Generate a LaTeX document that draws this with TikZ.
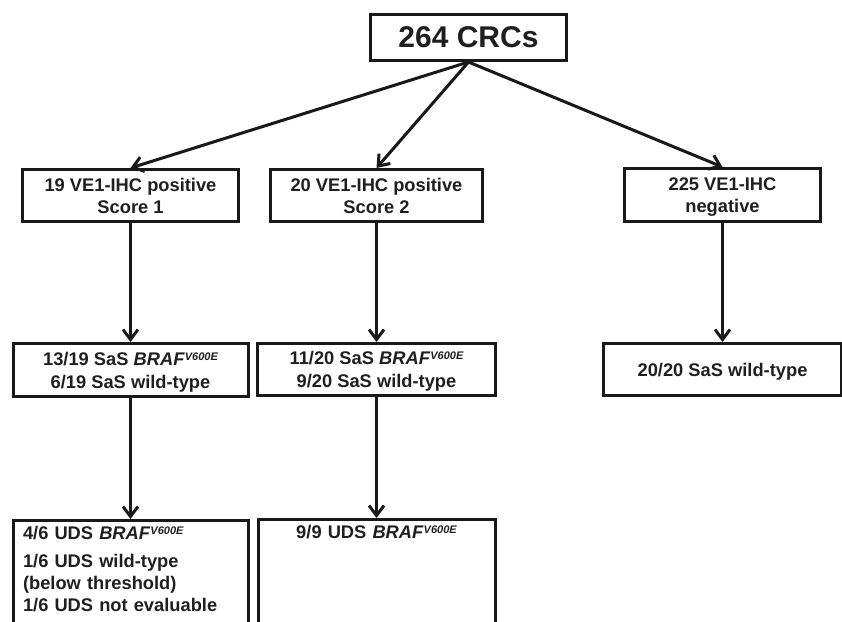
\documentclass[tikz,border=0pt]{standalone}
\usepackage{fontspec}
\setmainfont{Liberation Sans}
\usepackage{tikz}
\usetikzlibrary{positioning,arrows.meta}
\tikzset{ box/.style={draw=black!90,line width=3pt,inner sep=3pt,text depth=0pt,text=black!88,align=center,font=\fontsize{18.3}{22}\selectfont\bfseries},
  flow/.style={draw=black!90,line width=3pt,-{Straight Barb[length=10pt,width=15pt]}} }
\newcommand{\braf}{\textit{BRAF}\raisebox{5pt}{\fontsize{11}{12}\selectfont\itshape V600E}}

\begin{document}
\begin{tikzpicture}[x=1pt,y=-1pt]
   \useasboundingbox (0,0) rectangle (842,621);
   \node[box,minimum width=196pt,minimum height=46pt,font=\fontsize{30}{34}\selectfont\bfseries] (crc) at (468.5,37.5) {264 CRCs};
   \node[box,minimum width=216pt,minimum height=52pt] (ihc1) at (130.5,195.5) {19 VE1-IHC positive\\Score 1};
   \node[box,minimum width=212pt,minimum height=52pt] (ihc2) at (376.5,195.5) {20 VE1-IHC positive\\Score 2};
   \node[box,minimum width=196pt,minimum height=53pt] (ihcneg) at (722.5,195) {225 VE1-IHC\\negative};
   \node[box,minimum width=235pt,minimum height=53pt,below=119pt of ihc1] (sas1) {13/19 SaS \braf\\[1pt]6/19 SaS wild-type};
   \node[box,minimum width=238pt,minimum height=52pt,below=119pt of ihc2] (sas2) {11/20 SaS \braf\\[1pt]9/20 SaS wild-type};
   \node[box,minimum width=238pt,minimum height=52pt,below=119pt of ihcneg] (sasneg) {20/20 SaS wild-type};
   \node[box,text width=215pt,inner xsep=10pt,align=left,text height=16pt,text depth=110pt,below=121pt of sas1] (uds1) {4/6 UDS \braf\\[6pt]1/6 UDS wild-type\\(below threshold)\\1/6 UDS not evaluable};
   \node[box,text width=217pt,inner xsep=10pt,text height=16pt,text depth=110pt,below=121pt of sas2] (uds2) {9/9 UDS \braf};
   \draw[flow] (crc.south) -- (ihc1.north);
   \draw[flow] (crc.south) -- (ihc2.north);
   \draw[flow] (crc.south) -- (ihcneg.north);
   \draw[flow] (ihc1) -- (sas1);
   \draw[flow] (ihc2) -- (sas2);
   \draw[flow] (ihcneg) -- (sasneg);
   \draw[flow] (sas1) -- (uds1);
   \draw[flow] (sas2) -- (uds2);
\end{tikzpicture}
\end{document}
